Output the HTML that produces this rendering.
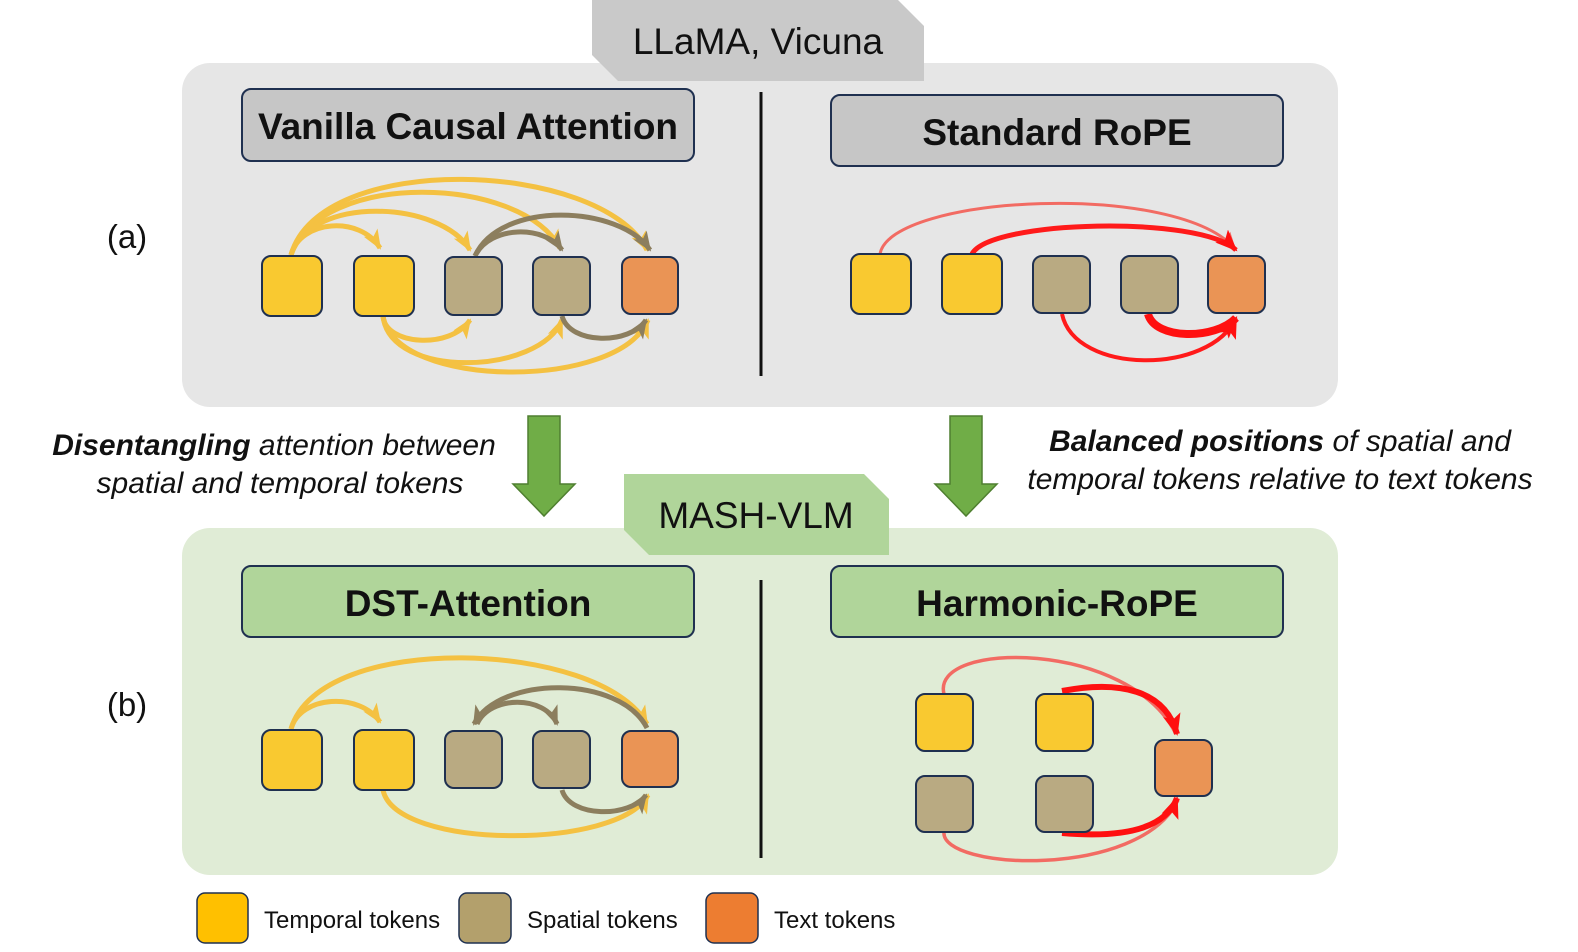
<!DOCTYPE html>
<html><head><meta charset="utf-8"><style>
html,body{margin:0;padding:0;background:#fff;}
svg{display:block;font-family:"Liberation Sans",Arial,sans-serif;}
</style></head><body>
<svg width="1578" height="952" viewBox="0 0 1578 952" xmlns="http://www.w3.org/2000/svg">
<defs>
<marker id="my" markerUnits="userSpaceOnUse" markerWidth="24" markerHeight="24" refX="18" refY="10" orient="auto"><path d="M0,2 L20,10 L0,18 L5,10 Z" fill="#f4c142"/></marker>
<marker id="mb" markerUnits="userSpaceOnUse" markerWidth="24" markerHeight="24" refX="18" refY="10" orient="auto"><path d="M0,2 L20,10 L0,18 L5,10 Z" fill="#8c7e5e"/></marker>
<marker id="mp" markerUnits="userSpaceOnUse" markerWidth="24" markerHeight="24" refX="18" refY="10" orient="auto"><path d="M0,3 L18,10 L0,17 L4,10 Z" fill="#f26b63"/></marker>
<marker id="mr" markerUnits="userSpaceOnUse" markerWidth="26" markerHeight="26" refX="20" refY="11" orient="auto"><path d="M0,2 L22,11 L0,20 L5,11 Z" fill="#ff1010"/></marker>
</defs>

<rect x="182" y="63" width="1156" height="344" rx="28" fill="#e6e6e6"/>
<polygon points="592,0 898,0 924,26 924,81 618,81 592,55" fill="#c9c9c9"/>
<text x="758" y="54" font-size="37" text-anchor="middle" fill="#111">LLaMA, Vicuna</text>
<rect x="242" y="89" width="452" height="72" rx="9" fill="#c6c6c6" stroke="#1f3050" stroke-width="2"/>
<text x="468" y="139" font-size="37" font-weight="bold" text-anchor="middle" fill="#111">Vanilla Causal Attention</text>
<rect x="831" y="95" width="452" height="71" rx="9" fill="#c6c6c6" stroke="#1f3050" stroke-width="2"/>
<text x="1057" y="145" font-size="37" font-weight="bold" text-anchor="middle" fill="#111">Standard RoPE</text>
<line x1="761" y1="92" x2="761" y2="376" stroke="#111" stroke-width="3"/>
<text x="127" y="248" font-size="33" text-anchor="middle" fill="#111">(a)</text>

<g fill="none" stroke-width="5">
<path d="M291,255 C300,220 360,215 380,248" stroke="#f4c142" marker-end="url(#my)"/>
<path d="M291,255 C310,195 440,200 470,250" stroke="#f4c142" marker-end="url(#my)"/>
<path d="M291,255 C320,170 520,175 560,248" stroke="#f4c142" marker-end="url(#my)"/>
<path d="M291,255 C320,150 600,160 647,250" stroke="#f4c142" marker-end="url(#my)"/>
<path d="M475,256 C490,225 545,225 562,250" stroke="#8c7e5e" style="marker-end:url(#mb)"/>
<path d="M475,256 C500,200 620,205 650,250" stroke="#8c7e5e" style="marker-end:url(#mb)"/>
<path d="M383,316 C385,345 450,350 470,320" stroke="#f4c142" marker-end="url(#my)"/>
<path d="M383,316 C390,380 540,375 562,320" stroke="#f4c142" marker-end="url(#my)"/>
<path d="M383,316 C395,390 620,390 648,320" stroke="#f4c142" marker-end="url(#my)"/>
<path d="M562,316 C570,345 630,345 646,320" stroke="#8c7e5e" style="marker-end:url(#mb)"/>
</g>
<g stroke="#1f3050" stroke-width="2">
<rect x="262" y="256" width="60" height="60" rx="9" fill="#f9c930"/>
<rect x="354" y="256" width="60" height="60" rx="9" fill="#f9c930"/>
<rect x="445" y="257" width="57" height="58" rx="9" fill="#b9aa82"/>
<rect x="533" y="257" width="57" height="58" rx="9" fill="#b9aa82"/>
<rect x="622" y="257" width="56" height="57" rx="9" fill="#ea9455"/>
</g>

<g fill="none">
<path d="M880,254 C890,195 1180,180 1236,250" stroke="#f26b63" stroke-width="3" marker-end="url(#mp)"/>
<path d="M972,254 C990,220 1200,215 1236,250" stroke="#ff1a1a" stroke-width="5" marker-end="url(#mr)"/>
<path d="M1062,314 C1075,375 1210,375 1236,318" stroke="#ff1a1a" stroke-width="4" marker-end="url(#mr)"/>
<path d="M1148,314 C1155,340 1215,340 1236,318" stroke="#ff1010" stroke-width="8" marker-end="url(#mr)"/>
</g>
<g stroke="#1f3050" stroke-width="2">
<rect x="851" y="254" width="60" height="60" rx="9" fill="#f9c930"/>
<rect x="942" y="254" width="60" height="60" rx="9" fill="#f9c930"/>
<rect x="1033" y="256" width="57" height="57" rx="9" fill="#b9aa82"/>
<rect x="1121" y="256" width="57" height="57" rx="9" fill="#b9aa82"/>
<rect x="1208" y="256" width="57" height="57" rx="9" fill="#ea9455"/>
</g>

<polygon points="528,416 560,416 560,484 575,484 544,516 513,484 528,484" fill="#70ad47" stroke="#4f7f30" stroke-width="1.5"/>
<polygon points="950,416 982,416 982,484 997,484 966,516 935,484 950,484" fill="#70ad47" stroke="#4f7f30" stroke-width="1.5"/>
<text x="274" y="455" font-size="30" font-style="italic" text-anchor="middle" fill="#111"><tspan font-weight="bold">Disentangling</tspan> attention between</text>
<text x="280" y="493" font-size="30" font-style="italic" text-anchor="middle" fill="#111">spatial and temporal tokens</text>
<text x="1280" y="451" font-size="30" font-style="italic" text-anchor="middle" fill="#111"><tspan font-weight="bold">Balanced positions</tspan> of spatial and</text>
<text x="1280" y="489" font-size="30" font-style="italic" text-anchor="middle" fill="#111">temporal tokens relative to text tokens</text>

<rect x="182" y="528" width="1156" height="347" rx="28" fill="#e0ecd6"/>
<polygon points="624,474 864,474 889,499 889,555 649,555 624,530" fill="#b0d59a"/>
<text x="756" y="528" font-size="37" text-anchor="middle" fill="#111">MASH-VLM</text>
<rect x="242" y="566" width="452" height="71" rx="9" fill="#b0d59a" stroke="#1f3050" stroke-width="2"/>
<text x="468" y="616" font-size="37" font-weight="bold" text-anchor="middle" fill="#111">DST-Attention</text>
<rect x="831" y="566" width="452" height="71" rx="9" fill="#b0d59a" stroke="#1f3050" stroke-width="2"/>
<text x="1057" y="616" font-size="37" font-weight="bold" text-anchor="middle" fill="#111">Harmonic-RoPE</text>
<line x1="761" y1="580" x2="761" y2="858" stroke="#111" stroke-width="3"/>
<text x="127" y="716" font-size="33" text-anchor="middle" fill="#111">(b)</text>

<g fill="none" stroke-width="5">
<path d="M291,729 C300,695 360,692 380,722" stroke="#f4c142" marker-end="url(#my)"/>
<path d="M291,729 C320,630 600,640 647,724" stroke="#f4c142" marker-end="url(#my)"/>
<path d="M477,724 C490,695 545,695 557,724" stroke="#8c7e5e" style="marker-end:url(#mb)"/>
<path d="M647,728 C620,675 500,675 474,724" stroke="#8c7e5e" style="marker-end:url(#mb)"/>
<path d="M383,790 C395,850 620,850 648,795" stroke="#f4c142" marker-end="url(#my)"/>
<path d="M562,790 C570,818 630,818 646,795" stroke="#8c7e5e" style="marker-end:url(#mb)"/>
</g>
<g stroke="#1f3050" stroke-width="2">
<rect x="262" y="730" width="60" height="60" rx="9" fill="#f9c930"/>
<rect x="354" y="730" width="60" height="60" rx="9" fill="#f9c930"/>
<rect x="445" y="731" width="57" height="57" rx="9" fill="#b9aa82"/>
<rect x="533" y="731" width="57" height="57" rx="9" fill="#b9aa82"/>
<rect x="622" y="731" width="56" height="56" rx="9" fill="#ea9455"/>
</g>

<g fill="none">
<path d="M944,694 C930,640 1130,640 1176,734" stroke="#f26b63" stroke-width="3.5"/>
<path d="M1062,691 C1120,680 1165,690 1177,734" stroke="#ff1010" stroke-width="6" marker-end="url(#mr)"/>
<path d="M944,832 C940,870 1140,880 1178,800" stroke="#f26b63" stroke-width="3.5"/>
<path d="M1062,833 C1120,838 1165,830 1177,798" stroke="#ff1010" stroke-width="6" marker-end="url(#mr)"/>
</g>
<g stroke="#1f3050" stroke-width="2">
<rect x="916" y="694" width="57" height="57" rx="9" fill="#f9c930"/>
<rect x="1036" y="694" width="57" height="57" rx="9" fill="#f9c930"/>
<rect x="916" y="776" width="57" height="56" rx="9" fill="#b9aa82"/>
<rect x="1036" y="776" width="57" height="56" rx="9" fill="#b9aa82"/>
<rect x="1155" y="740" width="57" height="56" rx="9" fill="#ea9455"/>
</g>

<g stroke="#1f3050" stroke-width="1.5">
<rect x="197" y="893" width="51" height="50" rx="8" fill="#ffc000"/>
<rect x="459" y="893" width="52" height="50" rx="8" fill="#b3a06c"/>
<rect x="706" y="893" width="52" height="50" rx="8" fill="#ed7d31"/>
</g>
<text x="264" y="928" font-size="24" fill="#111">Temporal tokens</text>
<text x="527" y="928" font-size="24" fill="#111">Spatial tokens</text>
<text x="774" y="928" font-size="24" fill="#111">Text tokens</text>
</svg>
</body></html>
